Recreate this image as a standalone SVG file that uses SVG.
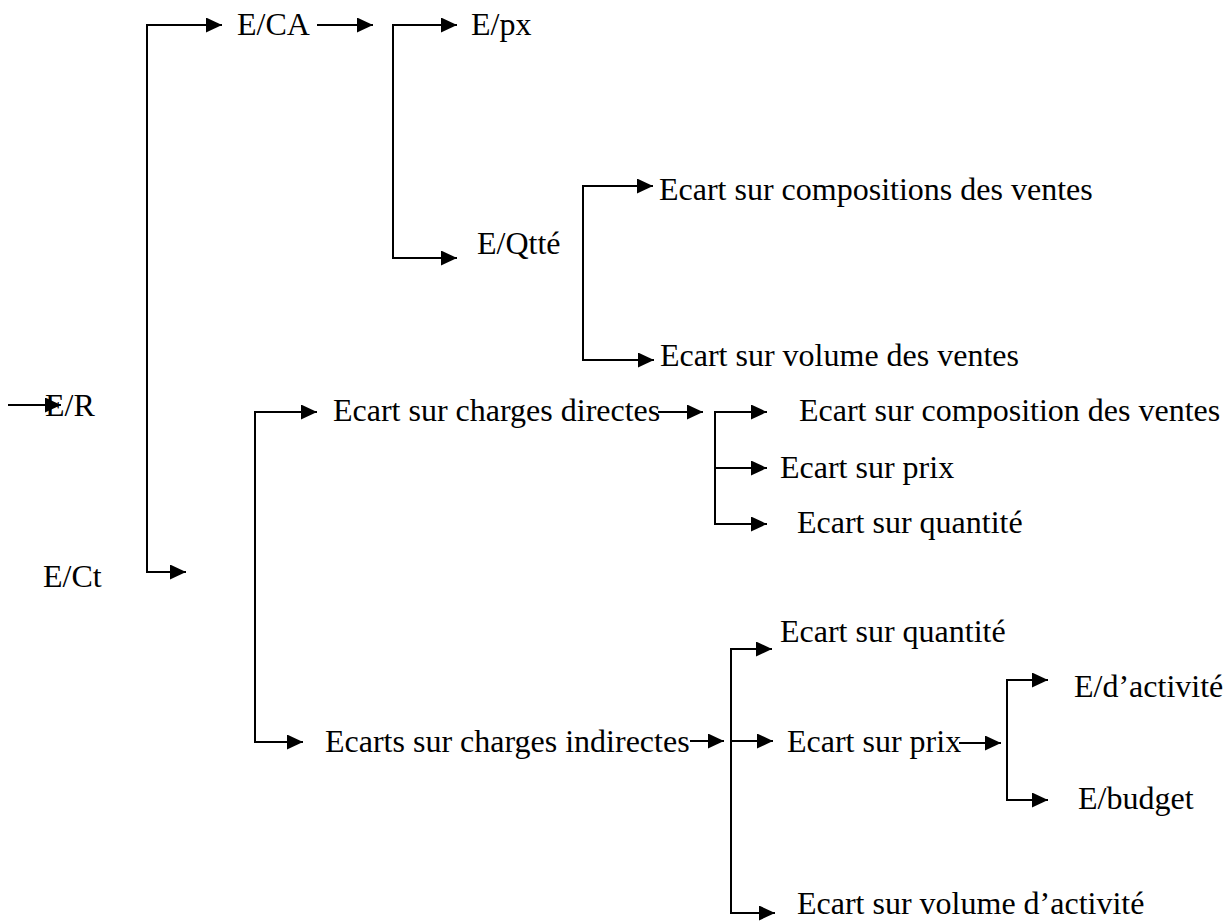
<svg xmlns="http://www.w3.org/2000/svg" width="1231" height="923" viewBox="0 0 1231 923">
  <style>
    .lbl { font-family: "Liberation Serif", "Tinos", "Times New Roman", "DejaVu Serif", serif; font-size: 32px; fill: #000; }
    .link { fill: none; stroke: #000; stroke-width: 2; stroke-linejoin: miter; marker-end: url(#head); }
    .fork { marker-start: url(#head); }
  </style>
  <defs>
    <marker id="head" markerUnits="userSpaceOnUse" markerWidth="17" markerHeight="16" refX="16" refY="7.5" orient="auto-start-reverse">
      <path d="M0,0 L16,7.5 L0,15 Z" fill="#000"/>
    </marker>
  </defs>

  <rect width="1231" height="923" fill="#fff"/>

  <!-- nodes -->
  <g class="lbl" font-family="Liberation Serif, serif">
    <g id="n-er"><text x="45" y="416">E/R</text></g>
    <g id="n-eca"><text x="237" y="35">E/CA</text></g>
    <g id="n-epx"><text x="471" y="35">E/px</text></g>
    <g id="n-eqtte"><text x="477" y="254">E/Qtté</text></g>
    <g id="n-compositions"><text x="659" y="200">Ecart sur compositions des ventes</text></g>
    <g id="n-volume-ventes"><text x="660" y="366">Ecart sur volume des ventes</text></g>
    <g id="n-ect"><text x="43" y="587">E/Ct</text></g>
    <g id="n-directes"><text x="333" y="421">Ecart sur charges directes</text></g>
    <g id="n-d-composition"><text x="799" y="421">Ecart sur composition des ventes</text></g>
    <g id="n-d-prix"><text x="780" y="478">Ecart sur prix</text></g>
    <g id="n-d-quantite"><text x="797" y="533">Ecart sur quantité</text></g>
    <g id="n-indirectes"><text x="325" y="752">Ecarts sur charges indirectes</text></g>
    <g id="n-i-quantite"><text x="780" y="642">Ecart sur quantité</text></g>
    <g id="n-i-prix"><text x="787" y="752">Ecart sur prix</text></g>
    <g id="n-activite"><text x="1074" y="697">E/d’activité</text></g>
    <g id="n-budget"><text x="1078" y="809">E/budget</text></g>
    <g id="n-i-volume"><text x="797" y="914">Ecart sur volume d’activité</text></g>
  </g>

  <!-- connectors -->
  <g id="connectors">
    <path class="link" d="M8,405 H61"/>
    <path class="link fork" d="M222,25 H147 V572 H186"/>
    <path class="link" d="M317,25 H373"/>
    <path class="link fork" d="M457,25 H393 V258 H457"/>
    <path class="link fork" d="M653,186 H583 V360 H654"/>
    <path class="link fork" d="M317,412 H255 V742 H303"/>
    <path class="link" d="M658,412 H703"/>
    <path class="link fork" d="M767,412 H715 V524 H767"/>
    <path class="link" d="M715,468 H767"/>
    <path class="link" d="M690,741 H724"/>
    <path class="link fork" d="M772,649 H731 V913 H775"/>
    <path class="link" d="M731,741 H773"/>
    <path class="link" d="M959,743 H1001"/>
    <path class="link fork" d="M1048,680 H1007 V800 H1048"/>
  </g>
</svg>
